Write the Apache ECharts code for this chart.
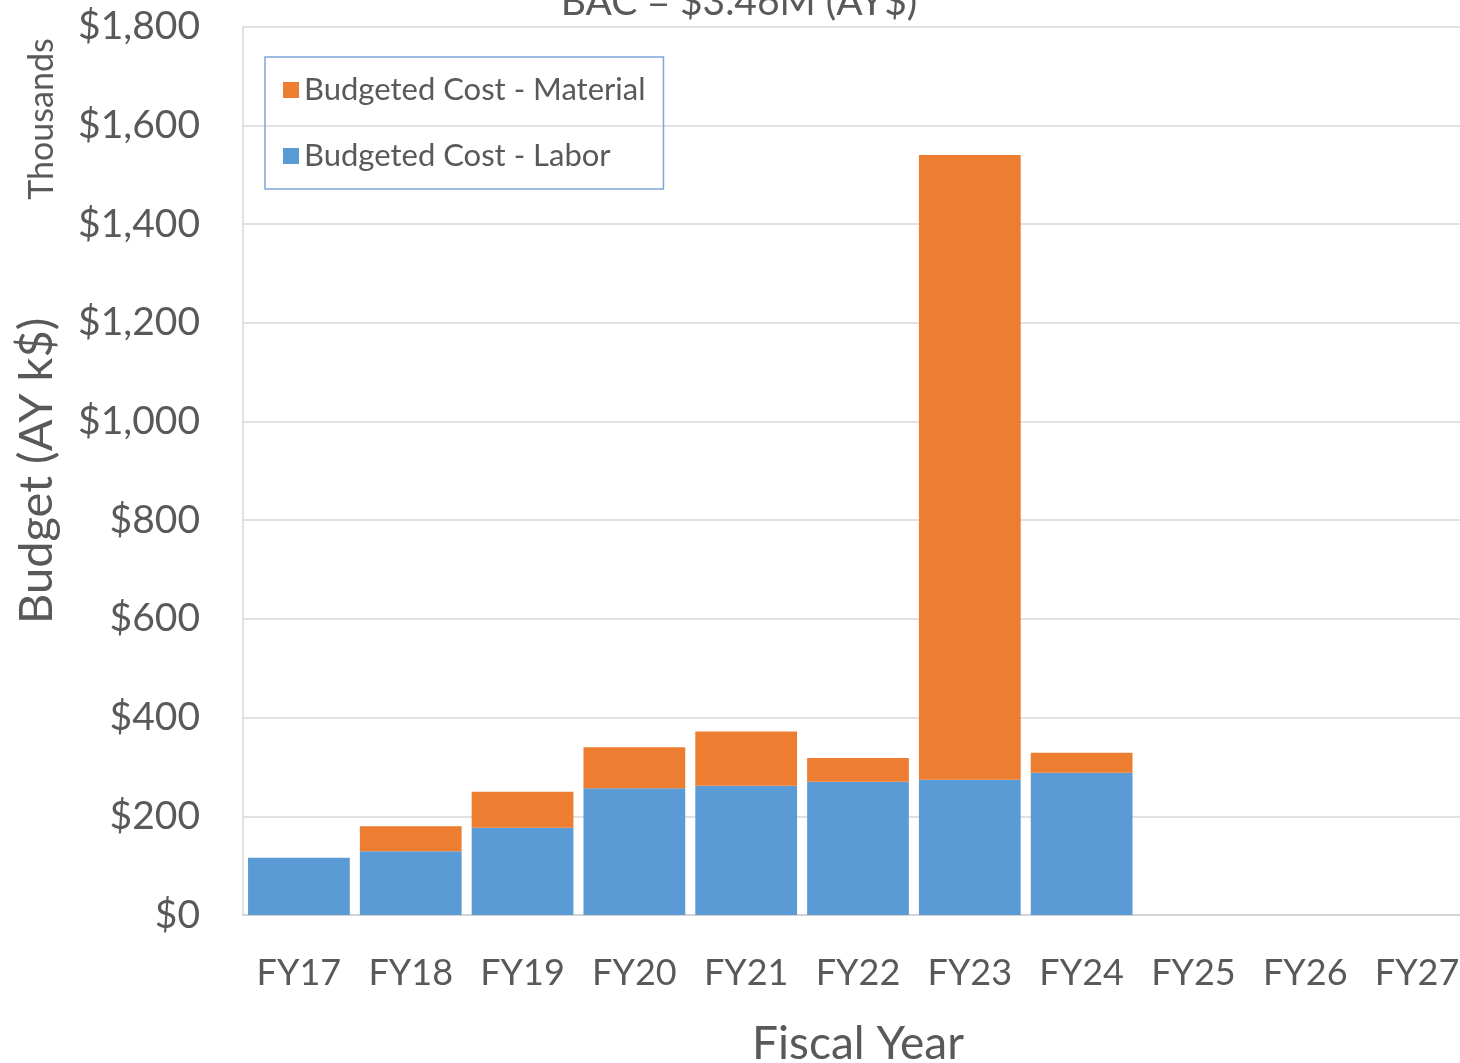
<!DOCTYPE html>
<html>
<head>
<meta charset="utf-8">
<title>BAC = $3.46M (AY$)</title>
<script src="https://cdn.jsdelivr.net/npm/echarts@6/dist/echarts.min.js"></script>
<style>
  html, body { margin: 0; padding: 0; background: #ffffff; }
  #chart { width: 1460px; height: 1063px; }
</style>
</head>
<body>
<div id="chart"></div>
<script>
// Fiscal years shown on the category axis
const fiscalYears = ['FY17', 'FY18', 'FY19', 'FY20', 'FY21', 'FY22', 'FY23', 'FY24', 'FY25', 'FY26', 'FY27'];

// Budgeted cost per year, thousands of AY dollars
const laborCost    = [116, 129, 177, 257, 262, 270, 274, 288, null, null, null];
const materialCost = [0,   51,  73,  83,  110, 48, 1266, 41,  null, null, null];

// Value-axis range and step (thousands)
const budgetMin = 0;
const budgetMax = 1800;
const budgetStep = 200;

const chartTitle = 'BAC = $3.46M (AY$)';
const laborName = 'Budgeted Cost - Labor';
const materialName = 'Budgeted Cost - Material';

const textGray = '#595959';
const fontFamily = 'Lato, "Open Sans", sans-serif';

const chart = echarts.init(document.getElementById('chart'), null, { renderer: 'canvas' });

chart.setOption({
  backgroundColor: '#ffffff',
  animation: false,
  title: {
    text: chartTitle,
    left: 734,
    textAlign: 'center',
    top: -22,
    textStyle: { color: textGray, fontFamily: fontFamily, fontWeight: 'normal', fontSize: 39 }
  },
  legend: {
    data: [materialName, laborName],
    orient: 'vertical',
    left: 265,
    top: 57,
    padding: [16, 18, 16, 18],
    itemGap: 32,
    itemWidth: 16,
    itemHeight: 16,
    borderColor: '#7FA7D9',
    borderWidth: 1.5,
    icon: 'rect',
    textStyle: { color: textGray, fontFamily: fontFamily, fontSize: 31, lineHeight: 34 }
  },
  grid: {
    left: 243,
    top: 26.7,
    width: 1230,
    height: 888.3,
    containLabel: false,
    outerBoundsMode: 'none'
  },
  xAxis: {
    type: 'category',
    data: fiscalYears,
    name: 'Fiscal Year',
    nameLocation: 'middle',
    nameGap: 106,
    nameTextStyle: { color: textGray, fontFamily: fontFamily, fontSize: 46 },
    axisLine: { show: true, lineStyle: { color: '#D0D0D0', width: 1.5 } },
    axisTick: { show: false },
    axisLabel: { color: textGray, fontFamily: fontFamily, fontSize: 36, margin: 40 }
  },
  yAxis: {
    type: 'value',
    min: budgetMin,
    max: budgetMax,
    interval: budgetStep,
    name: 'Budget (AY k$)',
    nameLocation: 'middle',
    nameRotate: 90,
    nameGap: 183,
    nameTextStyle: { color: textGray, fontFamily: fontFamily, fontSize: 47 },
    axisLine: { show: true, lineStyle: { color: '#D9D9D9', width: 1.5 } },
    axisTick: { show: false },
    splitLine: { show: true, lineStyle: { color: '#D9D9D9', width: 1.5 } },
    axisLabel: {
      color: textGray,
      fontFamily: fontFamily,
      fontSize: 39,
      margin: 43,
      formatter: function (v) { return '$' + v.toLocaleString('en-US'); }
    }
  },
  series: [
    {
      name: laborName,
      type: 'bar',
      stack: 'budget',
      data: laborCost,
      barCategoryGap: '9%',
      itemStyle: { color: '#5B9BD5' }
    },
    {
      name: materialName,
      type: 'bar',
      stack: 'budget',
      data: materialCost,
      barCategoryGap: '9%',
      itemStyle: { color: '#ED7D31' }
    }
  ],
  graphic: [
    {
      type: 'text',
      x: 42,
      y: 119,
      rotation: Math.PI / 2,
      style: {
        text: 'Thousands',
        fill: textGray,
        fontFamily: fontFamily,
        fontSize: 34,
        align: 'center',
        verticalAlign: 'middle'
      }
    }
  ]
});
</script>
</body>
</html>
